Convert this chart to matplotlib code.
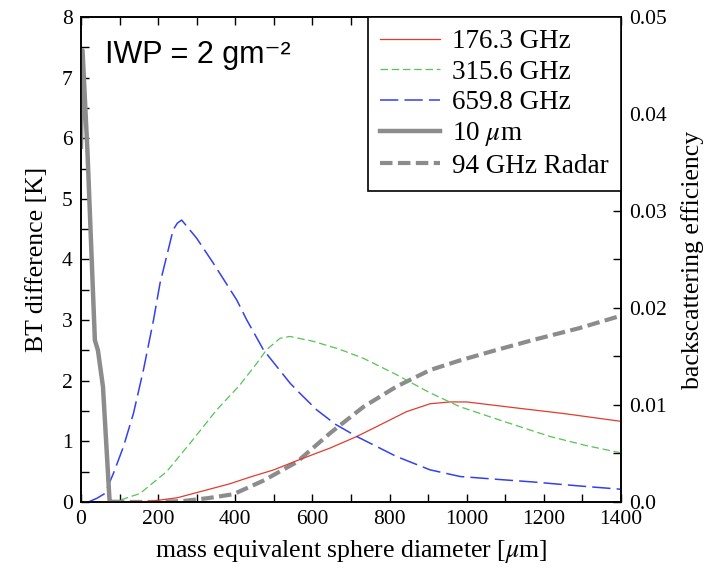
import numpy as np
import matplotlib
matplotlib.use("Agg")
import matplotlib.pyplot as plt
from matplotlib.ticker import MultipleLocator, FixedLocator

# ======================================================
# data
# ======================================================
# 176.3 GHz (BT difference, K)
d_176 = [0, 135, 179, 250, 309, 386, 438, 500, 559, 646, 715, 775, 844, 905, 957, 1000, 1130, 1250, 1400]
bt_176 = [0.0, 0.0, 0.01, 0.07, 0.17, 0.30, 0.41, 0.53, 0.68, 0.89, 1.08, 1.27, 1.49, 1.62, 1.65, 1.65, 1.55, 1.46, 1.33]

# 315.6 GHz
d_315 = [75, 101, 153, 222, 283, 352, 412, 456, 481, 516, 542, 602, 670, 732, 818, 905, 983, 1086, 1216, 1310, 1400]
bt_315 = [0.0, 0.03, 0.14, 0.5, 0.97, 1.52, 1.93, 2.29, 2.51, 2.70, 2.73, 2.65, 2.52, 2.37, 2.1, 1.8, 1.57,
          1.35, 1.08, 0.93, 0.81]

# 659.8 GHz
d_659 = [19, 41, 62, 84, 110, 136, 162, 188, 205, 239, 250, 261, 300, 343, 404, 430, 473, 542, 568, 611,
         660, 715, 818, 905, 983, 1086, 1172, 1300, 1400]
bt_659 = [0.0, 0.06, 0.14, 0.47, 0.91, 1.46, 2.18, 3.0, 3.61, 4.49, 4.6, 4.65, 4.35, 3.94, 3.33, 3.0, 2.51,
          1.96, 1.79, 1.52, 1.28, 1.08, 0.75, 0.53, 0.42, 0.37, 0.33, 0.26, 0.21]

# 10 um infrared
d_ir = [0, 4, 17, 36, 44, 57, 74, 76, 100]
bt_ir = [5.86, 7.45, 5.75, 2.67, 2.5, 1.9, 0.03, 0.0, 0.0]

# 94 GHz radar (backscattering efficiency, right axis)
d_radar = [80, 200, 265, 330, 395, 473, 559, 646, 732, 818, 905, 983, 1080, 1172, 1290, 1400]
bsc_radar = [0.0, 0.0, 0.0001, 0.0004, 0.0008, 0.0022, 0.0041, 0.0071, 0.0098, 0.0119, 0.0136, 0.0146,
             0.0157, 0.0167, 0.0179, 0.0192]

xticks = [0, 200, 400, 600, 800, 1000, 1200, 1400]
right_ticks = [0.0, 0.01, 0.02, 0.03, 0.04, 0.05]
right_labels = ["0.0", "0.01", "0.02", "0.03", "0.04", "0.05"]

serif = "Liberation Serif"
plt.rcParams["font.family"] = serif
plt.rcParams["mathtext.fontset"] = "stix"

fig = plt.figure(figsize=(7.16, 5.75), dpi=100)
ax = fig.add_axes([0.1131, 0.1270, 0.7542, 0.8435])
ax2 = ax.twinx()

l1, = ax.plot(d_176, bt_176, color="#e23b2e", lw=0.9, label="176.3 GHz")
l2, = ax.plot(d_315, bt_315, color="#55c455", lw=0.9, dashes=(6, 3), label="315.6 GHz")
l3, = ax.plot(d_659, bt_659, color="#3340ee", lw=1.1, dashes=(12, 4), label="659.8 GHz")
l4, = ax.plot(d_ir, bt_ir, color="#8c8c8c", lw=3.2, solid_joinstyle="round", label=r"10 $\mu$m")
l5, = ax2.plot(d_radar, bsc_radar, color="#8c8c8c", lw=3.0, dashes=(3, 1.3), label="94 GHz Radar")

ax.set_xlim(0, 1400)
ax.set_ylim(0, 8)
ax2.set_ylim(0, 0.05)

ax.xaxis.set_major_locator(FixedLocator(xticks))
ax.xaxis.set_minor_locator(MultipleLocator(100))
ax.yaxis.set_major_locator(MultipleLocator(1))
ax.yaxis.set_minor_locator(MultipleLocator(0.5))
ax.tick_params(axis="both", which="both", direction="in", top=True, right=False,
               labelsize=15.5, width=1, pad=6)
ax.tick_params(which="major", length=6)
ax.tick_params(which="minor", length=6)

ax2.yaxis.set_major_locator(FixedLocator(right_ticks))
ax2.yaxis.set_minor_locator(MultipleLocator(0.005))
ax2.set_yticklabels(right_labels)
ax2.tick_params(axis="y", which="both", direction="in", length=6, width=1,
                labelsize=15.5, pad=6)

for a in (ax, ax2):
    for s in a.spines.values():
        s.set_linewidth(1.2)

ax.set_xlabel(r"mass equivalent sphere diameter [$\mu$m]", fontsize=18.5, labelpad=6)
ax.set_ylabel("BT difference [K]", fontsize=18.5, labelpad=10)
ax2.set_ylabel("backscattering efficiency", fontsize=18.5, labelpad=10)

ax.text(0.045, 0.905, "IWP = 2 gm\u207b\u00b2", transform=ax.transAxes,
        fontsize=22, family=["Liberation Sans", "DejaVu Sans"], va="baseline")

leg = ax.legend(handles=[l1, l2, l3, l4, l5], loc="upper right", fontsize=19.5,
                fancybox=False, framealpha=1, edgecolor="black",
                borderaxespad=0, handlelength=2.2, handletextpad=0.45,
                labelspacing=0.2, borderpad=0.45)
leg.get_frame().set_linewidth(1.2)
ax.set_zorder(ax2.get_zorder() + 1)
ax.patch.set_visible(False)

fig.savefig("out.png", dpi=100)
